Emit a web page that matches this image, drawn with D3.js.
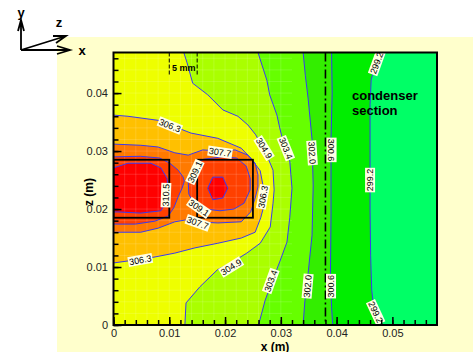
<!DOCTYPE html>
<html>
<head>
<meta charset="utf-8">
<script src="https://cdn.jsdelivr.net/npm/d3@7"></script>
<style>
  body { margin: 0; background: #fff; }
  svg { display: block; font-family: "Liberation Sans", Arial, sans-serif; }
</style>
</head>
<body>
<div id="chart"></div>
<script>
// contour levels (K) and flood colours, lowest band first
const levels = [299.2, 300.6, 302.0, 303.4, 304.9, 306.3, 307.7, 309.1, 310.5];
const bandColors = ["#00ff66", "#00ee00", "#33ee00", "#66ff00", "#aaff00", "#eeff00", "#ffc000", "#ff7a00", "#ff4000", "#ff0000"];
const xTicks = [0, 0.01, 0.02, 0.03, 0.04, 0.05];
const zTicks = [0, 0.01, 0.02, 0.03, 0.04];

// contour lines, [x (m), z (m)]
const c2992 = [[0.0479,0.047],[0.0470,0.0452],[0.0462,0.0423],[0.0460,0.0380],[0.0460,0.0300],[0.0460,0.0200],[0.0461,0.0120],[0.0463,0.0060],[0.0465,0.0043],[0.0472,0.0020],[0.0481,0]];
const c3006 = [[0.0391,0.047],[0.0392,0.040],[0.0390,0.032],[0.0390,0.019],[0.0389,0.009],[0.0391,0.003],[0.0393,0]];
const c3020 = [[0.0340,0.047],[0.0344,0.043],[0.0349,0.039],[0.0356,0.032],[0.0358,0.024],[0.0356,0.0155],[0.0349,0.009],[0.0343,0.004],[0.0340,0]];
const c3034 = [[0.0259,0.047],[0.0275,0.0422],[0.0280,0.0397],[0.0293,0.0362],[0.0298,0.0340],[0.0307,0.0305],[0.0316,0.0283],[0.0320,0.0236],[0.0316,0.0185],[0.0311,0.0143],[0.0298,0.0109],[0.0284,0.0074],[0.0272,0.0043],[0.0260,0]];
const c3049 = [[0.0126,0.047],[0.0132,0.0452],[0.0142,0.0417],[0.0169,0.0397],[0.0196,0.0371],[0.0223,0.0360],[0.0241,0.0345],[0.0255,0.0328],[0.0268,0.0305],[0.0277,0.0288],[0.0286,0.0267],[0.0288,0.0233],[0.0286,0.0210],[0.0281,0.0169],[0.0263,0.0141],[0.0239,0.0124],[0.0214,0.0109],[0.0186,0.0095],[0.0155,0.0066],[0.0130,0.0038],[0.0128,0]];
const c3063 = [[0,0.0362],[0.0026,0.0360],[0.0080,0.0353],[0.0139,0.0331],[0.0187,0.0322],[0.0229,0.0305],[0.0246,0.0288],[0.0263,0.0266],[0.0268,0.0241],[0.0270,0.0224],[0.0270,0.0207],[0.0264,0.0185],[0.0254,0.0160],[0.0229,0.0150],[0.0187,0.0141],[0.0146,0.0133],[0.0110,0.0124],[0.0067,0.0116],[0,0.0107]];
const c3077 = [[0,0.0312],[0.0049,0.0310],[0.0080,0.0307],[0.0110,0.0297],[0.0134,0.0293],[0.0160,0.0302],[0.0191,0.0300],[0.0218,0.0302],[0.0241,0.0293],[0.0254,0.0279],[0.0259,0.0259],[0.0259,0.0238],[0.0254,0.0219],[0.0246,0.0195],[0.0229,0.0178],[0.0187,0.0176],[0.0148,0.0178],[0.0128,0.0181],[0.0110,0.0178],[0.0080,0.0167],[0.0049,0.0160],[0,0.0160]];
const c3091a = [[0,0.0290],[0.0048,0.0291],[0.0083,0.0288],[0.0101,0.0279],[0.0116,0.0267],[0.0125,0.0255],[0.0127,0.0248],[0.0123,0.0236],[0.0116,0.0221],[0.0108,0.0202],[0.0098,0.0188],[0.0074,0.0179],[0.0039,0.0174],[0,0.0174]];
const c3091b = [[0.0134,0.0247],[0.0137,0.0264],[0.0148,0.0279],[0.0162,0.0286],[0.0195,0.0290],[0.0221,0.0288],[0.0238,0.0274],[0.0245,0.0253],[0.0245,0.0233],[0.0234,0.0210],[0.0216,0.0200],[0.0191,0.0197],[0.0164,0.0200],[0.0144,0.0209],[0.0135,0.0226]];
const c3105a = [[0,0.0271],[0.0026,0.0279],[0.0067,0.0279],[0.0085,0.0271],[0.0096,0.0253],[0.0098,0.0233],[0.0098,0.0219],[0.0085,0.0197],[0.0049,0.0193],[0.0008,0.0195],[0,0.0195]];
const c3105b = [[0.0169,0.0236],[0.0178,0.0255],[0.0196,0.0255],[0.0205,0.0236],[0.0196,0.0219],[0.0178,0.0216]];

// kind: "edge" = runs top to bottom (hot side on the left), "left" = ends on x=0, "ring" = closed
const contours = [
  {level: 299.2, pts: c2992, kind: "edge"},
  {level: 300.6, pts: c3006, kind: "edge"},
  {level: 302.0, pts: c3020, kind: "edge"},
  {level: 303.4, pts: c3034, kind: "edge"},
  {level: 304.9, pts: c3049, kind: "edge"},
  {level: 306.3, pts: c3063, kind: "left"},
  {level: 307.7, pts: c3077, kind: "left"},
  {level: 309.1, pts: c3091a, kind: "left"},
  {level: 309.1, pts: c3091b, kind: "ring"},
  {level: 310.5, pts: c3105a, kind: "left"},
  {level: 310.5, pts: c3105b, kind: "ring"}
];

// contour labels: text, x, z, angle
const contourLabels = [
  ["306.3", 0.0101, 0.0344, 22], ["307.7", 0.0191, 0.0298, 8], ["304.9", 0.0270, 0.0305, 58],
  ["303.4", 0.0309, 0.0305, 68], ["302.0", 0.0356, 0.0297, 86], ["300.6", 0.0391, 0.0302, 90],
  ["299.2", 0.0472, 0.0452, -70], ["299.2", 0.0460, 0.0250, -90], ["299.2", 0.0470, 0.0022, 65],
  ["304.9", 0.0211, 0.0100, -32], ["306.3", 0.0048, 0.0112, -10], ["307.7", 0.0151, 0.0176, 20],
  ["309.1", 0.0146, 0.0264, -65], ["309.1", 0.0153, 0.0202, 35], ["306.3", 0.0268, 0.0221, -80],
  ["310.5", 0.0094, 0.0224, -88], ["303.4", 0.0282, 0.0076, -70], ["302.0", 0.0348, 0.0067, -85],
  ["300.6", 0.0390, 0.0067, -90]
];

// heater blocks [x0, x1, z0, z1]
const heaters = [[0, 0.010, 0.0185, 0.0285], [0.015, 0.025, 0.0185, 0.0285]];
const condenserX = 0.038;
const xMax = 0.058, zMax = 0.047;

const W = 473, H = 352;
const svg = d3.select("#chart").append("svg").attr("width", W).attr("height", H);

// pale panel
svg.append("rect").attr("x", 57).attr("y", 37).attr("width", W - 57).attr("height", H - 37).attr("fill", "#ffffcc");

const x = d3.scaleLinear().domain([0, xMax]).range([113.5, 437]);
const z = d3.scaleLinear().domain([0, zMax]).range([325, 52.5]);

svg.append("clipPath").attr("id", "plotclip")
  .append("rect").attr("x", x(0)).attr("y", z(zMax)).attr("width", x(xMax) - x(0)).attr("height", z(0) - z(zMax));

const plot = svg.append("g").attr("clip-path", "url(#plotclip)");

const line = d3.line().x(d => x(d[0])).y(d => z(d[1]));

// coldest band as the base
plot.append("rect").attr("x", x(0)).attr("y", z(zMax)).attr("width", x(xMax) - x(0)).attr("height", z(0) - z(zMax))
  .attr("fill", bandColors[0]);

contours.forEach(c => {
  let pts = c.pts;
  if (c.kind == "edge") pts = pts.concat([[0, 0], [0, zMax]]);
  plot.append("path")
    .attr("d", line(pts) + "Z")
    .attr("fill", bandColors[levels.indexOf(c.level) + 1]);
});

// faint mesh
const meshX = d3.range(0.002, 0.032, 0.002);
const meshZ = d3.range(0.002, zMax, 0.002);
plot.append("g").selectAll("line").data(meshX).join("line")
  .attr("x1", d => x(d)).attr("x2", d => x(d)).attr("y1", z(0)).attr("y2", z(zMax))
  .attr("stroke", "#fff").attr("stroke-opacity", 0.18).attr("stroke-width", 0.8);
plot.append("g").selectAll("line").data(meshZ).join("line")
  .attr("x1", x(0)).attr("x2", x(0.032)).attr("y1", d => z(d)).attr("y2", d => z(d))
  .attr("stroke", "#fff").attr("stroke-opacity", 0.18).attr("stroke-width", 0.8);

// contour lines
contours.forEach(c => {
  plot.append("path")
    .attr("d", line(c.pts) + (c.kind == "ring" ? "Z" : ""))
    .attr("fill", "none").attr("stroke", "#3a3af0").attr("stroke-width", 1);
});

// heater outlines
plot.selectAll(".heater").data(heaters).join("rect")
  .attr("x", d => x(d[0])).attr("y", d => z(d[3]))
  .attr("width", d => x(d[1]) - x(d[0])).attr("height", d => z(d[2]) - z(d[3]))
  .attr("fill", "none").attr("stroke", "#000").attr("stroke-width", 1.8);

// condenser boundary
plot.append("line")
  .attr("x1", x(condenserX)).attr("x2", x(condenserX)).attr("y1", z(zMax)).attr("y2", z(0))
  .attr("stroke", "#000").attr("stroke-width", 1.6).attr("stroke-dasharray", "9,3,2,3");

// 5 mm marker
[0.010, 0.015].forEach(v => {
  plot.append("line")
    .attr("x1", x(v)).attr("x2", x(v)).attr("y1", z(zMax)).attr("y2", z(0.0432))
    .attr("stroke", "#000").attr("stroke-width", 1).attr("stroke-dasharray", "4,2");
});
plot.append("text").attr("x", x(0.0105)).attr("y", 71)
  .style("font-size", "9px").style("font-weight", "bold").text("5 mm");

// contour labels
contourLabels.forEach(l => {
  const g = plot.append("g")
    .attr("transform", "translate(" + x(l[1]) + "," + z(l[2]) + ") rotate(" + l[3] + ")");
  const r = g.append("rect").attr("fill", "#ffffe6");
  const t = g.append("text").attr("text-anchor", "middle").attr("dy", "0.35em")
    .style("font-size", "9px").attr("fill", "#000").text(l[0]);
  const w = t.node().getComputedTextLength();
  r.attr("x", -w / 2 - 1).attr("y", -5).attr("width", w + 2).attr("height", 10);
});

// frame
svg.append("rect").attr("x", x(0)).attr("y", z(zMax)).attr("width", x(xMax) - x(0)).attr("height", z(0) - z(zMax))
  .attr("fill", "none").attr("stroke", "#000").attr("stroke-width", 2);

// axes, ticks pointing in
const fmt = d => d === 0 ? "0" : d3.format(".2f")(d);
const xAxis = svg.append("g").attr("transform", "translate(0," + z(0) + ")")
  .call(d3.axisBottom(x).tickValues(xTicks).tickSize(-8).tickPadding(4).tickFormat(fmt));
const xMinor = svg.append("g").attr("transform", "translate(0," + z(0) + ")")
  .call(d3.axisBottom(x).tickValues(d3.range(0, xMax, 0.002)).tickSize(-5).tickFormat(""));
const zAxis = svg.append("g").attr("transform", "translate(" + x(0) + ",0)")
  .call(d3.axisLeft(z).tickValues(zTicks).tickSize(-8).tickPadding(5.5).tickFormat(fmt));
const zMinor = svg.append("g").attr("transform", "translate(" + x(0) + ",0)")
  .call(d3.axisLeft(z).tickValues(d3.range(0, zMax, 0.002)).tickSize(-5).tickFormat(""));
[xAxis, xMinor, zAxis, zMinor].forEach(a => {
  a.select(".domain").remove();
  a.selectAll("line").attr("stroke", "#000").attr("stroke-width", 1.5);
  a.selectAll("text").style("font-size", "11px").style("font-family", "Liberation Sans, Arial, sans-serif").attr("fill", "#222");
});

// axis titles
svg.append("text").attr("x", 275).attr("y", 350.5).attr("text-anchor", "middle")
  .style("font-size", "12px").style("font-weight", "bold").text("x (m)");
svg.append("text").attr("transform", "translate(93,192) rotate(-90)").attr("text-anchor", "middle")
  .style("font-size", "12px").style("font-weight", "bold").text("z (m)");

// condenser note
svg.append("text").attr("x", 352).attr("y", 100).style("font-size", "13px").style("font-weight", "bold").text("condenser");
svg.append("text").attr("x", 352).attr("y", 115).style("font-size", "13px").style("font-weight", "bold").text("section");

// coordinate triad
const tri = svg.append("g").attr("stroke", "#000").attr("stroke-width", 1.8).attr("fill", "none");
tri.append("path").attr("d", "M21,50 L21,20 M18,31 L21,20 L24,31");
tri.append("path").attr("d", "M21,50 L70,50 M57,46 L70,50 L57,54");
tri.append("path").attr("d", "M21,50 L66,36 M53,36 L66,36 L56,43");
svg.append("text").attr("x", 21).attr("y", 17).attr("text-anchor", "middle").style("font-size", "13px").style("font-weight", "bold").text("y");
svg.append("text").attr("x", 59).attr("y", 27).attr("text-anchor", "middle").style("font-size", "13px").style("font-weight", "bold").text("z");
svg.append("text").attr("x", 82).attr("y", 55).attr("text-anchor", "middle").style("font-size", "13px").style("font-weight", "bold").text("x");
</script>
</body>
</html>
